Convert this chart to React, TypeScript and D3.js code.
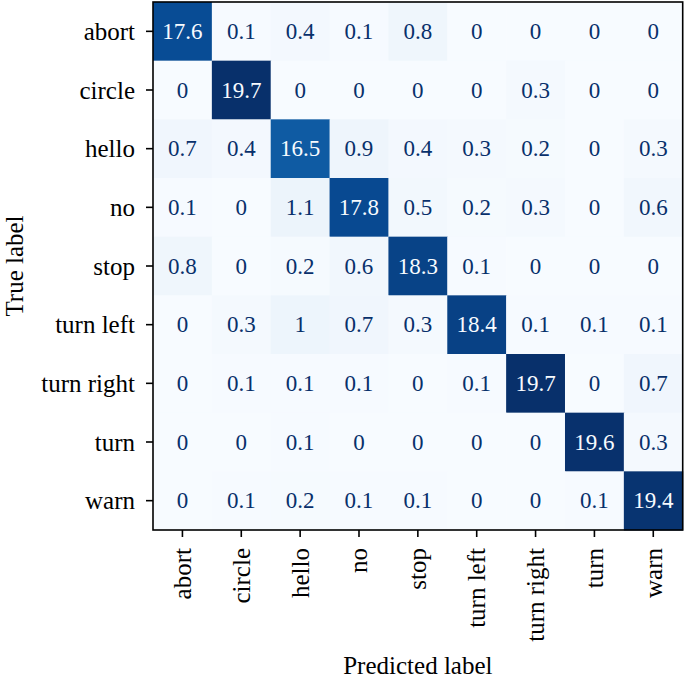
import React from "react";
import * as d3 from "d3";

const labels = ["abort", "circle", "hello", "no", "stop", "turn left", "turn right", "turn", "warn"];
const rowAbort = [17.6, 0.1, 0.4, 0.1, 0.8, 0, 0, 0, 0];
const rowCircle = [0, 19.7, 0, 0, 0, 0, 0.3, 0, 0];
const rowHello = [0.7, 0.4, 16.5, 0.9, 0.4, 0.3, 0.2, 0, 0.3];
const rowNo = [0.1, 0, 1.1, 17.8, 0.5, 0.2, 0.3, 0, 0.6];
const rowStop = [0.8, 0, 0.2, 0.6, 18.3, 0.1, 0, 0, 0];
const rowTurnLeft = [0, 0.3, 1, 0.7, 0.3, 18.4, 0.1, 0.1, 0.1];
const rowTurnRight = [0, 0.1, 0.1, 0.1, 0, 0.1, 19.7, 0, 0.7];
const rowTurn = [0, 0, 0.1, 0, 0, 0, 0, 19.6, 0.3];
const rowWarn = [0, 0.1, 0.2, 0.1, 0.1, 0, 0, 0.1, 19.4];
const matrix = [rowAbort, rowCircle, rowHello, rowNo, rowStop, rowTurnLeft, rowTurnRight, rowTurn, rowWarn];

const W = 685;
const H = 680;
const left = 153;
const right = 682.7;
const top = 2;
const bottom = 530;
const FONT = "'Liberation Serif', 'DejaVu Serif', serif";
const FS_NUM = 23;
const FS_LAB = 25;

export default function App() {
  const x = d3.scaleBand<string>().domain(labels).range([left, right]);
  const y = d3.scaleBand<string>().domain(labels).range([top, bottom]);
  const all = matrix.flat();
  const vmin = d3.min(all) as number;
  const vmax = d3.max(all) as number;
  const blues = d3.schemeBlues[9];
  const color = d3
    .scaleLinear<string>()
    .domain(blues.map((_, i) => vmin + (i / 8) * (vmax - vmin)))
    .range(blues)
    .interpolate(d3.interpolateRgb);
  const thresh = (vmin + vmax) / 2;
  const fmt = (v: number) => String(+v.toFixed(1));

  return (
    <svg width={W} height={H} style={{ position: "absolute", left: 0, top: 0, background: "white" }} fontFamily={FONT}>
      {matrix.map((row, i) =>
        row.map((v, j) => (
          <rect
            key={`c${i}-${j}`}
            x={x(labels[j])}
            y={y(labels[i])}
            width={x.bandwidth() + 0.5}
            height={y.bandwidth() + 0.5}
            fill={color(v)}
          />
        ))
      )}
      {matrix.map((row, i) =>
        row.map((v, j) => (
          <text
            key={`t${i}-${j}`}
            x={(x(labels[j]) as number) + x.bandwidth() / 2}
            y={(y(labels[i]) as number) + y.bandwidth() / 2}
            textAnchor="middle"
            dominantBaseline="central"
            fontSize={FS_NUM}
            fill={v > thresh ? blues[0] : blues[8]}
          >
            {fmt(v)}
          </text>
        ))
      )}
      <rect x={left} y={top} width={right - left} height={bottom - top} fill="none" stroke="black" strokeWidth={1.6} />
      {labels.map((l) => {
        const cy = (y(l) as number) + y.bandwidth() / 2;
        return (
          <g key={`y${l}`}>
            <line x1={left - 7} x2={left} y1={cy} y2={cy} stroke="black" strokeWidth={1.6} />
            <text x={left - 18} y={cy} textAnchor="end" dominantBaseline="central" fontSize={FS_LAB}>
              {l}
            </text>
          </g>
        );
      })}
      {labels.map((l) => {
        const cx = (x(l) as number) + x.bandwidth() / 2;
        return (
          <g key={`x${l}`}>
            <line x1={cx} x2={cx} y1={bottom} y2={bottom + 7} stroke="black" strokeWidth={1.6} />
            <text
              transform={`translate(${cx},${bottom + 18}) rotate(-90)`}
              textAnchor="end"
              dominantBaseline="central"
              fontSize={FS_LAB}
            >
              {l}
            </text>
          </g>
        );
      })}
      <text x={(left + right) / 2} y={674} textAnchor="middle" fontSize={FS_LAB}>
        Predicted label
      </text>
      <text transform={`translate(23,${(top + bottom) / 2}) rotate(-90)`} textAnchor="middle" fontSize={FS_LAB}>
        True label
      </text>
    </svg>
  );
}
